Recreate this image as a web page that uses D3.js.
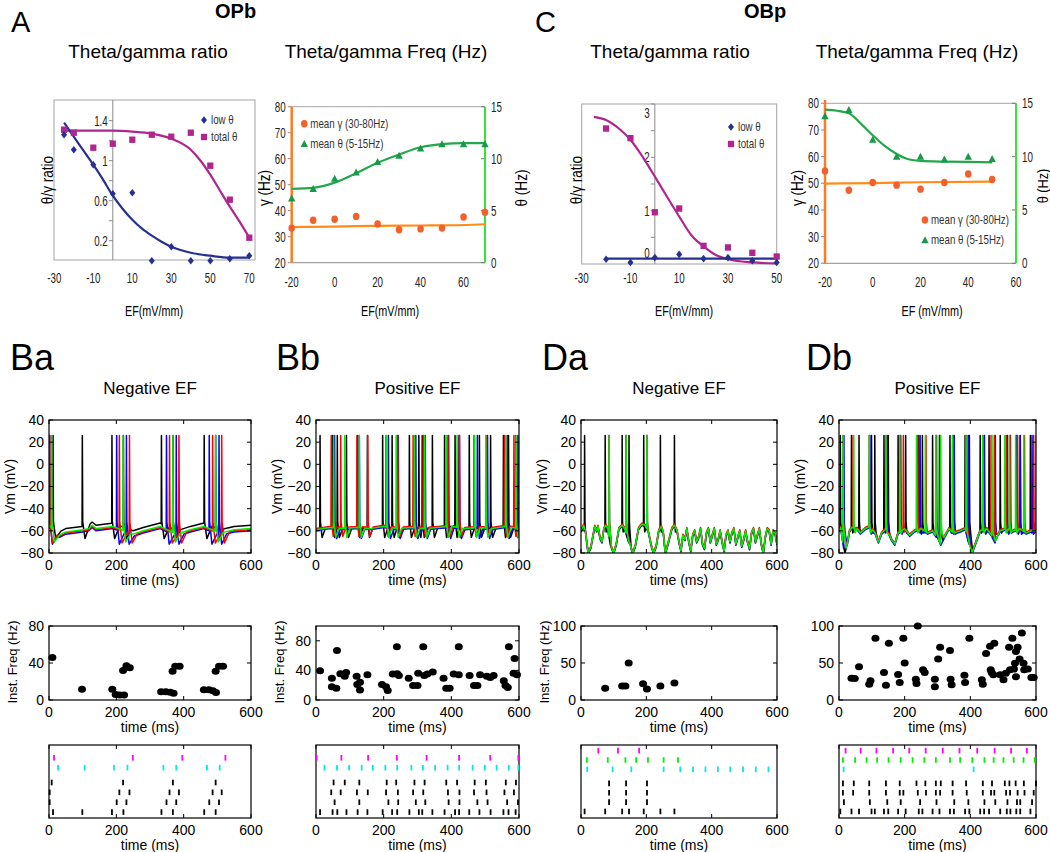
<!DOCTYPE html>
<html><head><meta charset="utf-8">
<script src="https://cdn.jsdelivr.net/npm/d3@7"></script>
<style>body{margin:0;background:#fff}svg{display:block}text{font-family:"Liberation Sans",Arial,sans-serif}</style>
</head><body>
<svg id="c" width="1050" height="852"></svg>
<script>
// ---------------- DATA ----------------
// Panel A (OPb) theta/gamma ratio
const aRatioEF = [-25,-20,-10,0,10,20,30,40,50,60,70];
const aLowTheta = [1.26,1.11,0.96,0.67,0.68,0.0,0.14,0.0,0.0,0.02,0.05];
const aTotalTheta = [1.31,1.28,1.13,1.17,1.21,1.26,1.24,1.28,0.95,0.61,0.23];
const aLowFitEF = [-25,-20,-15,-10,-5,0,5,10,15,20,25,30,40,50,60,70];
const aLowFit = [1.38,1.24,1.10,0.96,0.81,0.65,0.52,0.41,0.32,0.25,0.19,0.14,0.08,0.05,0.03,0.03];
const aTotalFitEF = [-25,-10,0,10,20,30,40,45,50,55,60,65,70];
const aTotalFit = [1.30,1.30,1.30,1.29,1.27,1.22,1.11,1.0,0.86,0.70,0.54,0.39,0.23];
const aRatioXTicks = [-30,-10,10,30,50,70];
const aRatioYLabels = ["0.2","0.6","1","1.4"];
// Panel A frequencies
const aFreqEF = [-20,-10,0,10,20,30,40,50,60,70];
const aGamma = [33.3,36.3,36.7,37.8,34.9,32.7,33.0,33.3,37.6,39.4];
const aTheta = [6.2,7.1,8.1,8.7,9.7,10.3,11.0,11.4,11.4,11.4];
const aGammaFitEF = [-20,0,20,40,60,70];
const aGammaFit = [33.7,33.9,34.2,34.3,34.5,34.8];
const aThetaFitEF = [-20,-10,0,10,20,30,40,50,60,70];
const aThetaFit = [7.1,7.2,7.7,8.6,9.6,10.4,11.1,11.4,11.5,11.5];
const aFreqXTicks = [-20,0,20,40,60];
// Panel C (OBp) ratio
const cRatioEF = [-20,-10,0,10,20,30,40,50];
const cLowTheta = [0.09,0.03,0.12,0.18,0.10,0.12,0.06,0.03];
const cTotalTheta = [2.54,2.36,0.97,1.04,0.34,0.31,0.21,0.14];
const cLowFitEF = [-20,50];
const cLowFit = [0.1,0.1];
const cTotalFitEF = [-25,-20,-15,-10,-5,0,5,10,15,20,25,30,40,50];
const cTotalFit = [2.76,2.70,2.55,2.33,2.01,1.64,1.26,0.89,0.54,0.33,0.17,0.09,0.03,0.01];
const cRatioXTicks = [-30,-10,10,30,50];
const cRatioYLabels = ["0","1","2","3"];
// Panel C frequencies
const cFreqEF = [-20,-10,0,10,20,30,40,50];
const cGamma = [54.6,47.4,50.3,49.3,47.8,50.3,53.5,51.4];
const cTheta = [13.8,14.4,11.6,10.0,10.0,9.75,10.0,9.8];
const cGammaFitEF = [-20,0,20,50];
const cGammaFit = [49.9,50.1,50.4,50.6];
const cThetaFitEF = [-20,-15,-10,-5,0,5,10,15,20,30,40,50];
const cThetaFit = [14.4,14.3,14.06,13.1,12.0,11.0,10.25,9.75,9.6,9.53,9.5,9.47];
const cFreqXTicks = [-20,0,20,40,60];
const gammaTicks = [20,30,40,50,60,70,80];
const thetaTicks = [0,5,10,15];

// Raster spike times (ms): M magenta, G green, C cyan, 1-4 black rows (top to bottom)
const baRasterM = [15,249,396,524];
const baRasterC = [27,106,193,233,340,378,469,507];
const baRaster1 = [8,220,368,495];
const baRaster2 = [2,209,239,358,386,486,513];
const baRaster3 = [2,201,230,349,378,476,505];
const baRaster4 = [12,99,187,221,334,368,461,495];

const bbRasterM = [2,75,154,239,327,423,515,598];
const bbRasterC = [25,62,98,135,168,205,240,282,316,352,389,423,463,499,534,570,598];
const bbRaster1 = [52,85,128,209,237,291,321,385,417,469,502,561,591];
const bbRaster2 = [45,73,121,153,207,242,287,317,390,424,467,504,557,585];
const bbRaster3 = [55,128,214,243,295,323,392,424,477,507,565,597];
const bbRaster4 = [12,49,63,90,123,152,197,225,240,276,304,314,344,380,411,423,453,483,516,554,569,590];

const daRasterM = [53,113,178];
const daRasterG = [18,82,136,169,205,253,297];
const daRasterC = [19,97,154,253,304,343,381,419,457,496,535,574];
const daRaster1 = [86,138,202];
const daRaster2 = [86,138,202];
const daRaster3 = [86,138,202];
const daRaster4 = [11,74,126,147,192,243,286];

const dbRasterM = [20,66,114,165,214,264,316,367,421,474,524,572];
const dbRasterG = [12,49,84,116,151,188,224,260,295,338,369,406,443,471,501,532,562,596];
const dbRasterC = [14,410];
const dbRaster1 = [12,45,92,143,185,236,263,295,310,346,387,438,466,505,519,538,563,600];
const dbRaster2 = [12,43,92,143,185,196,240,265,295,308,346,389,438,463,473,509,521,544,565,593];
const dbRaster3 = [15,94,147,188,247,297,351,394,443,476,513,542,552,588];
const dbRaster4 = [4,38,61,99,109,137,150,180,203,243,254,285,306,338,350,384,397,430,442,457,491,511,522,540,552,583];

// Instantaneous frequency scatter
const baInstT = [10,98,188,198,210,223,220,230,240,333,347,360,370,367,375,388,460,475,487,496,495,505,517];
const baInstF = [46,11.6,11.6,6,5.5,5.5,32,37,35,9,9,8.4,7.3,31,36.4,36.4,11,11,10,8,31,36.4,36.4];
const bbInstT = [12,47,47,60,62,72,85,89,120,122,130,130,152,195,207,212,227,240,239,245,274,287,300,302,317,320,329,345,377,385,395,407,422,422,454,467,477,485,505,515,525,555,560,567,570,587,584,594];
const bbInstF = [39.5,29.5,18,16,67,35.5,32,37,32,21,13.6,24,34,21,18,12.7,35,35.5,72,33,29.5,19.5,19.5,36,72,33,35,37.7,29.5,16,16,35,34,72,33,19.5,19.5,34,32,30.5,33,26,19.5,17,72,56,36,34];
const daInstT = [74,126,136,146,190,202,243,286];
const daInstF = [16,19,19,50,22,15,19,23];
const dbInstT = [38,48,61,92,96,111,137,143,152,180,185,196,200,234,236,240,256,261,292,292,302,308,338,340,343,382,384,397,435,438,448,460,462,465,470,473,491,501,508,518,521,528,533,536,539,539,544,550,557,562,564,575,586,593];
const dbInstF = [29.5,29,45,21.4,26,83.6,37,20,76.8,34.5,23.6,83.6,50,28,22.3,100,41,37,28,18,55.5,71.4,66.8,28,20.5,33.6,23.6,83.6,27.3,21.4,63,72.7,41,37,34,76.8,34,27.3,36,71.4,41,83.6,41.8,49.5,31.4,65.5,71.4,55.5,90.5,49.5,41,41.8,30.5,30.5];

// Membrane potential subthreshold levels (ms, mV) and per-trace offsets [black, blue, red, green]
const baBaseT = [0,30,50,100,118,128,140,190,250,280,330,380,420,460,510,550,600];
const baBaseV = [-55,-64,-61,-59,-58,-55,-58,-56,-63,-60,-56,-63,-59,-56,-62,-59,-58];
const baTraceOffset = [3,-2,-1,0];
const bbBaseT = [0,40,80,120,160,200,240,280,320,360,400,440,480,520,560,600];
const bbBaseV = [-59,-57,-58,-57,-58,-56,-58,-57,-58,-57,-56,-58,-57,-58,-56,-58];
const bbTraceOffset = [0,-1,1,0];
const daBaseT = [0,8,14,22,30,42,48,52,58,64,70,76,82,90,100,108,116,126,134,142,150,158,166,176,186,196,206,214,222,230,238,246,252,258,266,278,286,294,300,306,312,318,324,330,336,342,348,354,360,366,372,378,384,390,396,402,408,414,420,426,432,438,444,450,456,462,468,474,480,486,492,498,504,510,516,522,528,534,540,546,552,558,564,570,576,582,588,594,600];
const daBaseV = [-60,-55,-62,-80,-75,-56,-60,-56,-66,-70,-58,-55,-58,-72,-80,-72,-58,-55,-58,-66,-72,-80,-74,-58,-54,-55,-60,-72,-80,-74,-60,-56,-62,-80,-72,-58,-55,-60,-70,-78,-64,-68,-58,-70,-78,-64,-60,-70,-66,-58,-72,-76,-62,-58,-70,-64,-58,-72,-68,-60,-70,-78,-64,-60,-70,-62,-58,-72,-66,-60,-74,-68,-60,-70,-76,-62,-58,-70,-64,-58,-72,-80,-66,-58,-60,-72,-60,-62,-72];
const daTraceOffset = [-1,0,1,0];
const dbBaseT = [0,5,12,18,25,32,40,55,65,80,95,110,120,130,145,160,170,180,200,215,230,250,270,285,300,310,320,335,350,370,385,395,405,415,430,450,465,475,490,510,530,550,570,585,600];
const dbBaseV = [-60,-57,-70,-80,-72,-60,-57,-58,-62,-58,-56,-62,-70,-62,-58,-68,-72,-62,-58,-64,-60,-58,-62,-60,-66,-72,-66,-58,-62,-60,-58,-70,-80,-72,-60,-58,-64,-70,-60,-58,-60,-58,-62,-60,-60];
const dbTraceOffset = [0,-1,1,0];

// ---------------- DRAWING ----------------
const svg = d3.select('#c');
const BLUE='#26318f', MAG='#b0258f', ORG='#f2612b', ORGL='#ff8c1a', ORGAX='#ff7a22', GRN='#17994a', GRNL='#22a84a', GRNAX='#33e633';

// o.cond: horizontal compression along the text direction (Excel-style narrow text)
function txt(g,x,y,s,o={}){
  const t=g.append('text').attr('x',x).attr('y',y).text(s)
    .attr('font-size',o.size||14).attr('text-anchor',o.anchor||'start').attr('fill',o.fill||'#000');
  if(o.weight) t.attr('font-weight',o.weight);
  if(o.dy) t.attr('dy',o.dy);
  let tr='';
  if(o.rotate) tr+=`rotate(${o.rotate},${x},${y}) `;
  if(o.cond) tr+=`translate(${x},${y}) scale(${o.cond},1) translate(${-x},${-y})`;
  if(tr) t.attr('transform',tr.trim());
  return t;
}
function zip(a,b){return a.map((v,i)=>[v,b[i]]);}
const diamond='M0,-3.8L3,0L0,3.8L-3,0Z';
const square='M-3.1,-3.2H3.1V3.2H-3.1Z';
const tri='M0,-3.8L3.7,3.2H-3.7Z';

// Headings
txt(svg,11,32,'A',{size:29});
txt(svg,215,18,'OPb',{size:20,weight:'bold'});
txt(svg,535,32,'C',{size:29});
txt(svg,744,18,'OBp',{size:20,weight:'bold'});
txt(svg,148,58,'Theta/gamma ratio',{size:19,anchor:'middle'});
txt(svg,386,58,'Theta/gamma Freq (Hz)',{size:19,anchor:'middle'});
txt(svg,670,58,'Theta/gamma ratio',{size:19,anchor:'middle'});
txt(svg,917,58,'Theta/gamma Freq (Hz)',{size:19,anchor:'middle'});

function ratioPlot(c){
  const g=svg.append('g');
  const xs=d3.scaleLinear(c.xDom,c.xRng), ys=d3.scaleLinear(c.yDom,c.yRng);
  const [fx0,fy0,fx1,fy1]=c.frame;
  g.append('rect').attr('x',fx0).attr('y',fy0).attr('width',fx1-fx0).attr('height',fy1-fy0)
    .attr('fill','none').attr('stroke','#a3a3a3').attr('stroke-width',1);
  const ax=xs(0);
  g.append('line').attr('x1',ax).attr('x2',ax).attr('y1',fy0).attr('y2',fy1).attr('stroke','#8a8a8a');
  c.yMinor.forEach(v=>g.append('line').attr('x1',ax-4).attr('x2',ax).attr('y1',ys(v)).attr('y2',ys(v)).attr('stroke','#8a8a8a'));
  c.yLabels.forEach((s,i)=>txt(g,ax-5,ys(+s)+(c.yShift?c.yShift[i]:0),s,{anchor:'end',size:14,dy:'0.35em',cond:0.7,fill:'#222'}));
  c.xTicks.forEach(v=>txt(g,xs(v),283,String(v),{anchor:'middle',size:14,cond:0.7,fill:'#222'}));
  const line=d3.line().x(d=>xs(d[0])).y(d=>ys(d[1])).curve(d3.curveMonotoneX);
  g.append('path').attr('d',line(zip(c.totFitX,c.totFit))).attr('fill','none').attr('stroke',MAG).attr('stroke-width',2.2);
  g.append('path').attr('d',line(zip(c.lowFitX,c.lowFit))).attr('fill','none').attr('stroke',BLUE).attr('stroke-width',2.2);
  zip(c.ef,c.tot).forEach(d=>g.append('path').attr('d',square).attr('fill',MAG).attr('transform',`translate(${xs(d[0])},${ys(d[1])})`));
  zip(c.ef,c.low).forEach(d=>g.append('path').attr('d',diamond).attr('fill',BLUE).attr('transform',`translate(${xs(d[0])},${ys(d[1])})`));
  g.append('path').attr('d',diamond).attr('fill',BLUE).attr('transform',`translate(${c.leg[0]},${c.leg[1]})`);
  g.append('path').attr('d',square).attr('fill',MAG).attr('transform',`translate(${c.leg[0]},${c.leg[1]+17})`);
  txt(g,c.leg[0]+7,c.leg[1]+4,'low θ',{size:13,cond:0.75,fill:'#333'});
  txt(g,c.leg[0]+7,c.leg[1]+21,'total θ',{size:13,cond:0.75,fill:'#333'});
  txt(g,c.ylabX,180,'θ/γ  ratio',{size:16,anchor:'middle',rotate:-90,cond:0.85,dy:'0.35em'});
  txt(g,c.efX,316,'EF(mV/mm)',{size:15,anchor:'middle',cond:0.72});
}
ratioPlot({xDom:[-30,70],xRng:[54.3,249.3],yDom:[0,1.6],yRng:[260.7,100.7],frame:[54,100,255,260],
  yMinor:[0.2,0.4,0.6,0.8,1.0,1.2,1.4],yLabels:aRatioYLabels,xTicks:aRatioXTicks,
  ef:aRatioEF,low:aLowTheta,tot:aTotalTheta,lowFitX:aLowFitEF,lowFit:aLowFit,totFitX:aTotalFitEF,totFit:aTotalFit,
  leg:[204,120],ylabX:47,efX:154});
ratioPlot({xDom:[-30,50],xRng:[581.7,776.7],yDom:[0,3],yRng:[264,104],frame:[581.7,104,776.7,264],
  yMinor:[0.5,1,1.5,2,2.5,3],yLabels:cRatioYLabels,yShift:[-11,0,0,9],xTicks:cRatioXTicks,
  ef:cRatioEF,low:cLowTheta,tot:cTotalTheta,lowFitX:cLowFitEF,lowFit:cLowFit,totFitX:cTotalFitEF,totFit:cTotalFit,
  leg:[731,127],ylabX:576,efX:684});

function freqPlot(c){
  const g=svg.append('g');
  const [x0,y0,x1,y1]=c.frame;
  const xs=d3.scaleLinear(c.xDom,[x0,c.xEnd]);
  const yl=d3.scaleLinear([20,80],[y1,y0]), yr=d3.scaleLinear([0,15],[y1,y0]);
  g.append('line').attr('x1',x0).attr('x2',x1).attr('y1',y0).attr('y2',y0).attr('stroke','#a3a3a3');
  g.append('line').attr('x1',x0).attr('x2',x1).attr('y1',y1).attr('y2',y1).attr('stroke','#8a8a8a');
  gammaTicks.forEach(v=>{
    g.append('line').attr('x1',x0-4).attr('x2',x0).attr('y1',yl(v)).attr('y2',yl(v)).attr('stroke','#8a8a8a');
    txt(g,x0-6,yl(v),String(v),{anchor:'end',size:14,dy:'0.35em',cond:0.7,fill:'#222'});
  });
  thetaTicks.forEach(v=>{
    g.append('line').attr('x1',x1-4).attr('x2',x1).attr('y1',yr(v)).attr('y2',yr(v)).attr('stroke','#777');
    txt(g,x1+6,yr(v),String(v),{size:14,dy:'0.35em',cond:0.7,fill:'#222'});
  });
  c.xTicks.forEach(v=>txt(g,xs(v),287,String(v),{anchor:'middle',size:14,cond:0.7,fill:'#222'}));
  g.append('line').attr('x1',x0).attr('x2',x0).attr('y1',c.lTop).attr('y2',y1).attr('stroke',ORGAX).attr('stroke-width',2.5);
  g.append('line').attr('x1',x1).attr('x2',x1).attr('y1',y0).attr('y2',y1).attr('stroke',GRNAX).attr('stroke-width',2);
  const lg=d3.line().x(d=>xs(d[0])).y(d=>yl(d[1])).curve(d3.curveMonotoneX);
  const lt=d3.line().x(d=>xs(d[0])).y(d=>yr(d[1])).curve(d3.curveMonotoneX);
  g.append('path').attr('d',lg(zip(c.gfx,c.gf))).attr('fill','none').attr('stroke',ORGL).attr('stroke-width',2.2);
  g.append('path').attr('d',lt(zip(c.tfx,c.tf))).attr('fill','none').attr('stroke',GRNL).attr('stroke-width',2.2);
  zip(c.ef,c.gam).forEach(d=>g.append('ellipse').attr('cx',xs(d[0])).attr('cy',yl(d[1])).attr('rx',3.3).attr('ry',3.7).attr('fill',ORG));
  zip(c.ef,c.the).forEach(d=>g.append('path').attr('d',tri).attr('fill',GRN).attr('transform',`translate(${xs(d[0])},${yr(d[1])})`));
  g.append('ellipse').attr('cx',c.leg[0]).attr('cy',c.leg[1]).attr('rx',3.3).attr('ry',3.7).attr('fill',ORG);
  g.append('path').attr('d',tri).attr('fill',GRN).attr('transform',`translate(${c.leg[0]},${c.leg[1]+20})`);
  txt(g,c.leg[0]+6,c.leg[1]+4,'mean γ (30-80Hz)',{size:13,cond:0.75,fill:'#333'});
  txt(g,c.leg[0]+6,c.leg[1]+24,'mean θ (5-15Hz)',{size:13,cond:0.75,fill:'#333'});
  txt(g,c.glX,188,'γ (Hz)',{size:16,anchor:'middle',rotate:-90,dy:'0.35em',cond:0.85});
  txt(g,c.tlX,c.tlY||188,'θ (Hz)',{size:c.tlSize||16,anchor:'middle',rotate:-90,dy:'0.35em',cond:0.85});
  txt(g,c.efX,316,c.efLabel,{size:15,anchor:'middle',cond:0.72});
}
freqPlot({frame:[291.7,106.7,485,262.7],xDom:[-20,70],xEnd:485,lTop:106.7,xTicks:aFreqXTicks,
  ef:aFreqEF,gam:aGamma,the:aTheta,gfx:aGammaFitEF,gf:aGammaFit,tfx:aThetaFitEF,tf:aThetaFit,
  leg:[304.3,123.7],glX:264,tlX:521,efX:390,efLabel:'EF(mV/mm)'});
freqPlot({frame:[825,103.3,1016,263.3],xDom:[-20,60],xEnd:1016,lTop:100,xTicks:cFreqXTicks,
  ef:cFreqEF,gam:cGamma,the:cTheta,gfx:cGammaFitEF,gf:cGammaFit,tfx:cThetaFitEF,tf:cThetaFit,
  leg:[925,220],glX:797,tlX:1043,tlY:186,tlSize:15,efX:932,efLabel:'EF (mV/mm)'});

// ---------- lower panels ----------
const panels=[
  {name:'Ba',title:'Negative EF',lx:10,x0:49,x1:251,base:[baBaseT,baBaseV],off:baTraceOffset,
   rows:[baRaster4,baRaster3,baRaster2,baRaster1],rasterColor:[[baRasterM,'#ff00ff',6.5],[baRasterC,'#00e8f0',5.5]],rDom:[0.4,7.8],
   st:{peak:26,down:-52,ahpT:8,ahpV:-70,rec:15},inst:[baInstT,baInstF],fDom:[0,80],fTicks:[0,40,80],flabel:true},
  {name:'Bb',title:'Positive EF',lx:276,x0:316,x1:519,base:[bbBaseT,bbBaseV],off:bbTraceOffset,
   rows:[bbRaster4,bbRaster3,bbRaster2,bbRaster1],rasterColor:[[bbRasterM,'#ff00ff',6.5],[bbRasterC,'#00e8f0',5.5]],rDom:[0.4,7.8],
   st:{peak:26,down:-52,ahpT:6,ahpV:-66,rec:10},inst:[bbInstT,bbInstF],fDom:[0,100],fTicks:[0,40,80],flabel:true},
  {name:'Da',title:'Negative EF',lx:542,x0:581,x1:777,base:[daBaseT,daBaseV],off:daTraceOffset,
   rows:[daRaster4,daRaster3,daRaster2,daRaster1],rasterColor:[[daRasterM,'#ff00ff',7.5],[daRasterG,'#00f000',6.5],[daRasterC,'#00e8f0',5.5]],rDom:[0.3,8.1],
   st:{peak:26,down:-52,ahpT:3,ahpV:-60,rec:4},inst:[daInstT,daInstF],fDom:[0,100],fTicks:[0,50,100],flabel:true},
  {name:'Db',title:'Positive EF',lx:806,x0:839,x1:1036,base:[dbBaseT,dbBaseV],off:dbTraceOffset,
   rows:[dbRaster4,dbRaster3,dbRaster2,dbRaster1],rasterColor:[[dbRasterM,'#ff00ff',7.5],[dbRasterG,'#00f000',6.5],[dbRasterC,'#00e8f0',5.5]],rDom:[0.3,8.1],
   st:{peak:26,down:-52,ahpT:4,ahpV:-62,rec:6},inst:[dbInstT,dbInstF],fDom:[0,100],fTicks:[0,50,100],flabel:false}
];
const VY=[420,553], SY=[626,700], RY=[745,818];
const tickT=[0,200,400,600];
const traceColors=['#000000','#0000ff','#ff0000','#00ee00'];

function buildTrace(baseT,baseV,off,spikes,st){
  const bv=baseV.map(v=>v+off);
  const bs=d3.scaleLinear().domain(baseT).range(bv).clamp(true);
  const sp=spikes.slice().sort((a,b)=>a-b);
  const pts=[];
  baseT.forEach((t,i)=>{ if(!sp.some(s=>t>s-1&&t<s+st.ahpT+st.rec)) pts.push([t,bv[i]]); });
  sp.forEach((s,k)=>{
    const nxt=k+1<sp.length?sp[k+1]:Infinity;
    pts.push([s-0.8,bs(s)]); pts.push([s,st.peak]); pts.push([s+1.2,st.down]);
    if(s+st.ahpT<nxt-1) pts.push([s+st.ahpT,st.ahpV+off]);
    if(s+st.ahpT+st.rec<nxt-1) pts.push([s+st.ahpT+st.rec,bs(s+st.ahpT+st.rec)]);
  });
  return pts.sort((a,b)=>a[0]-b[0]);
}

function matFrame(g,xs,ys,x0,x1,y0,y1,yT,yLabelFn){
  g.append('rect').attr('x',x0).attr('y',y0).attr('width',x1-x0).attr('height',y1-y0).attr('fill','none').attr('stroke','#000').attr('stroke-width',1.2);
  tickT.forEach(t=>{
    g.append('line').attr('x1',xs(t)).attr('x2',xs(t)).attr('y1',y1).attr('y2',y1-4).attr('stroke','#000');
    g.append('line').attr('x1',xs(t)).attr('x2',xs(t)).attr('y1',y0).attr('y2',y0+4).attr('stroke','#000');
    txt(g,xs(t),y1+17,String(t),{anchor:'middle',size:14});
  });
  txt(g,(x0+x1)/2,y1+32,'time (ms)',{anchor:'middle',size:14});
  if(yT){ yT.forEach(v=>{
    g.append('line').attr('x1',x0).attr('x2',x0+4).attr('y1',ys(v)).attr('y2',ys(v)).attr('stroke','#000');
    g.append('line').attr('x1',x1).attr('x2',x1-4).attr('y1',ys(v)).attr('y2',ys(v)).attr('stroke','#000');
    txt(g,x0-5,ys(v),yLabelFn(v),{anchor:'end',size:14,dy:'0.35em'});
  });}
}

panels.forEach((p,pi)=>{
  const g=svg.append('g');
  txt(g,p.lx,370,p.name,{size:36});
  txt(g,(p.x0+p.x1)/2,394,p.title,{size:17,anchor:'middle'});
  const xs=d3.scaleLinear([0,600],[p.x0,p.x1]);
  // voltage
  const yv=d3.scaleLinear([-80,40],[VY[1],VY[0]]);
  const cid='clip'+pi;
  g.append('clipPath').attr('id',cid).append('rect').attr('x',p.x0).attr('y',VY[0]).attr('width',p.x1-p.x0).attr('height',VY[1]-VY[0]);
  const tg=g.append('g').attr('clip-path',`url(#${cid})`);
  const line=d3.line().x(d=>xs(d[0])).y(d=>yv(d[1]));
  p.rows.forEach((sp,i)=>{
    tg.append('path').attr('d',line(buildTrace(p.base[0],p.base[1],p.off[i],sp,p.st)))
      .attr('fill','none').attr('stroke',traceColors[i]).attr('stroke-width',1.5).attr('stroke-linejoin','round');
  });
  matFrame(g,xs,yv,p.x0,p.x1,VY[0],VY[1],[40,20,0,-20,-40,-60,-80],v=>v<0?'\u2212'+Math.abs(v):String(v));
  txt(g,p.x0-39,(VY[0]+VY[1])/2,'Vm (mV)',{size:14,anchor:'middle',rotate:-90,dy:'0.35em'});
  // instantaneous freq
  const yf=d3.scaleLinear(p.fDom,[SY[1],SY[0]]);
  matFrame(g,xs,yf,p.x0,p.x1,SY[0],SY[1],p.fTicks,v=>String(v));
  zip(p.inst[0],p.inst[1]).forEach(d=>g.append('ellipse').attr('cx',xs(d[0])).attr('cy',yf(d[1])).attr('rx',4).attr('ry',3.5).attr('fill','#000'));
  if(p.flabel) txt(g,p.x0-37,662,'Inst. Freq (Hz)',{size:13,anchor:'middle',rotate:-90,dy:'0.35em'});
  // raster
  const yr=d3.scaleLinear(p.rDom,[RY[1],RY[0]]);
  matFrame(g,xs,yr,p.x0,p.x1,RY[0],RY[1],null,null);
  const rowSets=[[p.rows[0],'#000',1],[p.rows[1],'#000',2],[p.rows[2],'#000',3],[p.rows[3],'#000',4]].concat(p.rasterColor.map(r=>[r[0],r[1],r[2]]));
  rowSets.forEach(([ts,col,lvl])=>{
    ts.forEach(t=>g.append('line').attr('x1',xs(t)).attr('x2',xs(t)).attr('y1',yr(lvl)-2.8).attr('y2',yr(lvl)+2.8).attr('stroke',col).attr('stroke-width',1.8));
  });
});
</script>
</body></html>
